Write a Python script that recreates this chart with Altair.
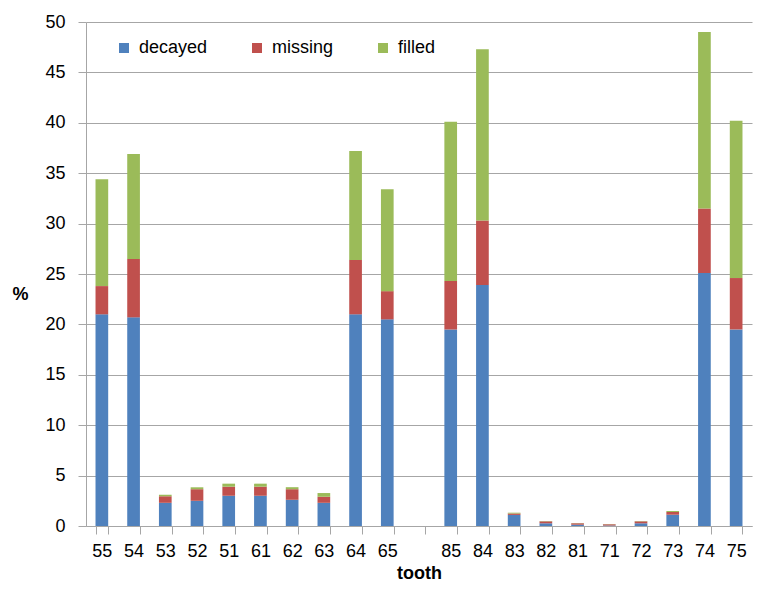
import altair as alt
import pandas as pd

teeth = ["55", "54", "53", "52", "51", "61", "62", "63", "64", "65", " ",
         "85", "84", "83", "82", "81", "71", "72", "73", "74", "75"]
decayed = [21.0, 20.7, 2.3, 2.5, 3.0, 3.0, 2.6, 2.3, 21.0, 20.5, 0,
           19.5, 23.9, 1.1, 0.27, 0.13, 0.05, 0.27, 1.12, 25.1, 19.5]
missing = [2.8, 5.8, 0.65, 1.15, 0.9, 0.9, 1.05, 0.6, 5.4, 2.8, 0,
           4.8, 6.4, 0.14, 0.19, 0.14, 0.12, 0.19, 0.27, 6.4, 5.1]
filled = [10.6, 10.4, 0.15, 0.19, 0.3, 0.3, 0.2, 0.37, 10.8, 10.1, 0,
          15.8, 17.0, 0.08, 0.03, 0.02, 0.02, 0.03, 0.1, 17.5, 15.6]
series = ["decayed", "missing", "filled"]
colors = ["#4F81BD", "#C0504D", "#9BBB59"]
y_ticks = [0, 5, 10, 15, 20, 25, 30, 35, 40, 45, 50]

rows = []
for i, t in enumerate(teeth):
    for k, (name, vals) in enumerate(zip(series, [decayed, missing, filled])):
        rows.append({"tooth": t, "series": name, "value": vals[i], "order": k})
df = pd.DataFrame(rows)

FONT = "Liberation Sans"
GRID = "#A6A6A6"

chart = alt.Chart(df).mark_bar().encode(
    x=alt.X(
        "tooth:N",
        sort=teeth,
        scale=alt.Scale(domain=teeth, paddingInner=0.6, paddingOuter=0.3),
        axis=alt.Axis(
            title="tooth", labelAngle=0, tickBand="extent", grid=False,
            labelFont=FONT, labelFontSize=18, labelColor="black", labelPadding=8,
            tickColor=GRID, tickSize=8, domainColor=GRID,
            titleFont=FONT, titleFontSize=18, titleFontWeight="bold", titleColor="black",
            titleY=52, titleBaseline="alphabetic",
        ),
    ),
    y=alt.Y(
        "value:Q",
        stack="zero",
        scale=alt.Scale(domain=[0, 50], nice=False),
        axis=alt.Axis(
            values=y_ticks, format="d", title="%", titleAngle=0,
            titleX=-66, titleY=277, titleAlign="center", titleBaseline="alphabetic",
            titleFont=FONT, titleFontSize=18, titleFontWeight="bold", titleColor="black",
            labelFont=FONT, labelFontSize=18, labelColor="black", labelPadding=13,
            tickColor=GRID, tickSize=8, domainColor=GRID, gridColor=GRID,
        ),
    ),
    color=alt.Color(
        "series:N",
        scale=alt.Scale(domain=series, range=colors),
        legend=alt.Legend(
            title=None, orient="none", legendX=29, legendY=17, direction="horizontal",
            symbolType="square", symbolSize=100, symbolStrokeWidth=0,
            labelFont=FONT, labelFontSize=18, labelColor="black", labelOffset=6,
            columnPadding=40, padding=0,
        ),
    ),
    order=alt.Order("order:Q"),
).properties(
    width=666,
    height=504,
    autosize=alt.AutoSizeParams(type="none"),
    padding={"left": 78, "top": 14, "right": 2, "bottom": 56},
).configure_view(stroke="transparent")

chart.save("out.html", embed_options={"renderer": "svg", "actions": False})
